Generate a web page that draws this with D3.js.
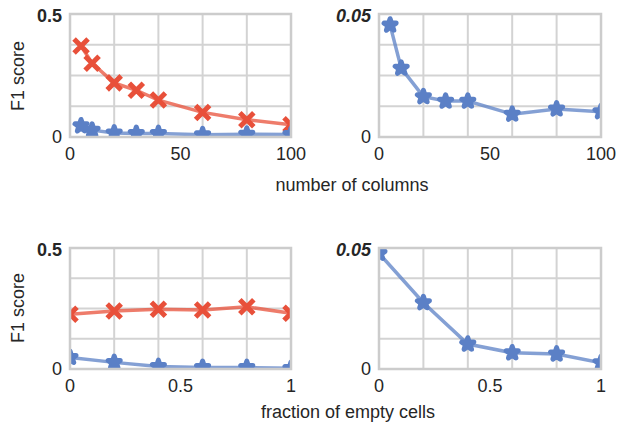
<html>
<head>
<script src="https://cdn.jsdelivr.net/npm/d3@7"></script>
<style>
  body { margin: 0; background: #fff; }
  text { font-family: "Liberation Sans", Arial, sans-serif; fill: #262626; }
</style>
</head>
<body>
<svg id="chart"></svg>
<script>
// data
var columns = [5, 10, 20, 30, 40, 60, 80, 100];
var columnsRed = [0.37, 0.30, 0.22, 0.19, 0.15, 0.10, 0.07, 0.05];
var columnsBlue = [0.0455, 0.028, 0.0164, 0.0146, 0.0146, 0.0093, 0.0114, 0.0103];
var emptyFrac = [0, 0.2, 0.4, 0.6, 0.8, 1];
var emptyRed = [0.226, 0.24, 0.247, 0.244, 0.257, 0.23];
var emptyBlue = [0.0478, 0.0274, 0.0103, 0.0067, 0.0062, 0.0026];
var colTicks = [0, 50, 100];
var fracTicks = [0, 0.5, 1];

var red = "#e8503a", blue = "#5b80c6";
var W = 617, H = 425;
var svg = d3.select("#chart").attr("width", W).attr("height", H);

var panels = [
  {id: "tl", left: 70, top: 14, w: 221, h: 123, xs: columns, xmax: 100, ymax: 0.5, yLab: "0.5", italic: false,
   xt: colTicks, red: columnsRed, blue: columnsBlue},
  {id: "tr", left: 379, top: 14, w: 222, h: 123, xs: columns, xmax: 100, ymax: 0.05, yLab: "0.05", italic: true,
   xt: colTicks, red: null, blue: columnsBlue},
  {id: "bl", left: 70, top: 248, w: 221, h: 121, xs: emptyFrac, xmax: 1, ymax: 0.5, yLab: "0.5", italic: false,
   xt: fracTicks, red: emptyRed, blue: emptyBlue},
  {id: "br", left: 379, top: 248, w: 222, h: 121, xs: emptyFrac, xmax: 1, ymax: 0.05, yLab: "0.05", italic: true,
   xt: fracTicks, red: null, blue: emptyBlue}
];

var star = d3.symbol().type(d3.symbolStar).size(45);

panels.forEach(function (p) {
  var x = d3.scaleLinear().domain([0, p.xmax]).range([0, p.w]);
  var y = d3.scaleLinear().domain([0, p.ymax]).range([p.h, 0]);
  var g = svg.append("g").attr("transform", "translate(" + p.left + "," + p.top + ")");

  g.append("clipPath").attr("id", "clip-" + p.id)
    .append("rect").attr("width", p.w).attr("height", p.h);

  // grid
  g.selectAll(".vg").data(x.ticks(4)).enter().append("line")
    .attr("x1", x).attr("x2", x).attr("y1", 0).attr("y2", p.h)
    .attr("stroke", "#d3d3d3").attr("stroke-width", 2);
  g.selectAll(".hg").data(d3.range(5).map(function (i) { return p.ymax * i / 4; }))
    .enter().append("line")
    .attr("x1", 0).attr("x2", p.w).attr("y1", y).attr("y2", y)
    .attr("stroke", "#d3d3d3").attr("stroke-width", 2);

  // x tick labels
  g.selectAll(".xl").data(p.xt).enter().append("text")
    .attr("x", x).attr("y", p.h + 23)
    .attr("text-anchor", "middle").attr("font-size", 18)
    .text(function (d) { return d3.format("~g")(d); });

  // y tick labels
  g.append("text").attr("x", -8).attr("y", p.h + 6)
    .attr("text-anchor", "end").attr("font-size", 18).text("0");
  g.append("text").attr("x", -8).attr("y", 8)
    .attr("text-anchor", "end").attr("font-size", 18)
    .attr("font-weight", "bold").attr("font-style", p.italic ? "italic" : "normal")
    .text(p.yLab);

  var plot = g.append("g").attr("clip-path", "url(#clip-" + p.id + ")");
  var line = d3.line().x(function (d) { return x(d[0]); }).y(function (d) { return y(d[1]); });

  function series(vals, color, marker) {
    var pts = p.xs.map(function (v, i) { return [v, vals[i]]; });
    plot.append("path").datum(pts).attr("d", line)
      .attr("fill", "none").attr("stroke", color).attr("stroke-opacity", 0.75)
      .attr("stroke-width", 3.5);
    var m = plot.selectAll(null).data(pts).enter().append("g")
      .attr("transform", function (d) { return "translate(" + x(d[0]) + "," + y(d[1]) + ")"; });
    if (marker === "x") {
      m.append("path").attr("d", "M-7,-7L7,7M-7,7L7,-7")
        .attr("stroke", color).attr("stroke-width", 5);
    } else {
      m.append("path").attr("d", star)
        .attr("fill", color).attr("stroke", color)
        .attr("stroke-width", 5).attr("stroke-linejoin", "round");
    }
  }
  if (p.red) series(p.red, red, "x");
  series(p.blue, blue, "star");

  // frame
  g.append("rect").attr("width", p.w).attr("height", p.h)
    .attr("fill", "none").attr("stroke", "#cccccc").attr("stroke-width", 2.5);
});

// axis titles
[{x: 24, y: 76}, {x: 24, y: 308}].forEach(function (d) {
  svg.append("text").attr("transform", "translate(" + d.x + "," + d.y + ") rotate(-90)")
    .attr("text-anchor", "middle").attr("font-size", 18).text("F1 score");
});
svg.append("text").attr("x", 352).attr("y", 191)
  .attr("text-anchor", "middle").attr("font-size", 18).text("number of columns");
svg.append("text").attr("x", 348).attr("y", 418)
  .attr("text-anchor", "middle").attr("font-size", 18).text("fraction of empty cells");
</script>
</body>
</html>
